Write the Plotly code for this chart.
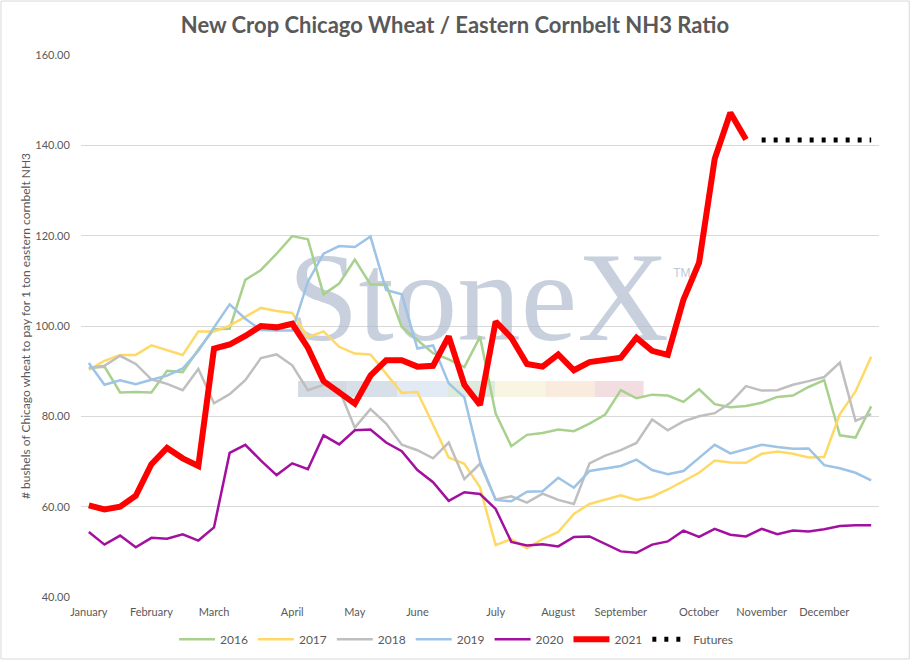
import plotly.graph_objects as go

# weekly index (51 weeks shown on the chart)
weeks = list(range(51))

month_labels = ["January", "February", "March", "April", "May", "June", "July",
                "August", "September", "October", "November", "December"]
month_weeks = [0, 4, 8, 13, 17, 21, 26, 30, 34, 39, 43, 47]

ratio_2016 = [90.7, 91.0, 85.3, 85.4, 85.3, 90.1, 89.8, 94.8, 99.3, 99.4,
              110.2, 112.4, 116.0, 119.9, 119.2, 107.0, 109.4, 114.7, 109.2, 109.2,
              99.8, 96.8, 94.0, 92.6, 90.9, 97.6, 80.6, 73.4, 75.9, 76.3,
              77.1, 76.7, 78.4, 80.4, 85.8, 84.0, 84.8, 84.6, 83.2, 86.0,
              82.7, 82.0, 82.3, 83.0, 84.3, 84.6, 86.5, 88.0, 75.8, 75.3, 82.2]

ratio_2017 = [90.3, 92.3, 93.6, 93.6, 95.7, 94.6, 93.6, 98.8, 98.8, 100.1,
              102.0, 104.0, 103.3, 102.9, 97.5, 98.8, 95.4, 93.9, 93.7, 89.4,
              85.2, 85.4, 78.3, 70.9, 69.5, 64.3, 51.5, 52.8, 50.8, 52.8,
              54.4, 58.4, 60.6, 61.5, 62.5, 61.5, 62.2, 63.8, 65.6, 67.5,
              70.2, 69.8, 69.7, 71.7, 72.2, 71.7, 70.9, 71.0, 80.5, 85.5, 93.2]

ratio_2018 = [90.7, 91.2, 93.4, 91.6, 88.2, 87.2, 85.8, 90.5, 82.9, 84.9,
              88.0, 92.9, 93.7, 91.3, 85.8, 87.0, 85.9, 77.5, 81.6, 78.4,
              73.7, 72.5, 70.7, 74.2, 66.1, 69.5, 61.6, 62.3, 60.9, 62.9,
              61.5, 60.6, 69.6, 71.3, 72.5, 74.1, 79.3, 76.9, 78.9, 80.0,
              80.7, 83.0, 86.7, 85.7, 85.8, 87.0, 87.8, 88.7, 91.9, 79.0, 80.5]

ratio_2019 = [91.8, 87.0, 88.0, 87.1, 88.1, 89.0, 90.6, 94.5, 99.7, 104.8,
              101.6, 99.1, 99.0, 99.0, 109.8, 116.0, 117.7, 117.5, 119.8, 108.0,
              107.0, 95.0, 95.7, 87.3, 84.2, 70.0, 61.5, 61.2, 63.3, 63.4,
              66.4, 64.2, 67.9, 68.5, 69.0, 70.4, 68.1, 67.2, 67.9, 70.8,
              73.7, 71.8, 72.7, 73.7, 73.2, 72.8, 72.9, 69.2, 68.5, 67.5, 65.8]

ratio_2020 = [54.4, 51.6, 53.6, 51.0, 53.1, 52.9, 53.9, 52.5, 55.4, 71.9,
              73.7, 70.2, 67.0, 69.6, 68.3, 75.8, 73.8, 76.9, 77.1, 74.2,
              72.3, 68.1, 65.4, 61.3, 63.2, 62.8, 59.5, 52.2, 51.4, 51.7,
              51.2, 53.3, 53.4, 51.7, 50.1, 49.8, 51.6, 52.3, 54.7, 53.3,
              55.1, 53.8, 53.4, 55.1, 53.9, 54.7, 54.5, 55.0, 55.7, 55.9, 55.9]

ratio_2021 = [60.3, 59.4, 60.0, 62.4, 69.4, 73.0, 70.7, 69.0, 95.0, 95.9,
              97.8, 100.0, 99.7, 100.5, 95.2, 87.8, 85.3, 82.8, 89.0, 92.4,
              92.4, 91.0, 91.2, 97.7, 87.0, 82.5, 101.0, 97.4, 91.6, 91.0,
              93.7, 90.2, 92.0, 92.5, 93.0, 97.4, 94.5, 93.6, 105.8, 114.0,
              137.0, 147.2, 141.3] + [None] * 8

futures = [None] * 43 + [141.2] * 8

series = [
    ("2016", ratio_2016, "#a9d18e", 2.5),
    ("2017", ratio_2017, "#ffd966", 2.5),
    ("2018", ratio_2018, "#bfbfbf", 2.5),
    ("2019", ratio_2019, "#9dc3e6", 2.5),
    ("2020", ratio_2020, "#a3109f", 2.5),
    ("2021", ratio_2021, "#ff0000", 6),
]

text_grey = "#595959"

fig = go.Figure()

# StoneX watermark, drawn first so the lines sit on top of it
fig.add_trace(go.Scatter(
    x=[24.9], y=[104.0], mode="text", text=["StoneX"],
    textfont=dict(family="Liberation Serif", size=127, color="rgba(172,185,203,0.68)"),
    showlegend=False, hoverinfo="skip"
))
fig.add_trace(go.Scatter(
    x=[37.9], y=[111.6], mode="text", text=["TM"],
    textfont=dict(family="Liberation Sans", size=12, color="rgba(172,185,203,0.8)"),
    showlegend=False, hoverinfo="skip"
))

for name, vals, color, width in series:
    fig.add_trace(go.Scatter(
        x=weeks, y=vals, mode="lines", name=name,
        line=dict(color=color, width=width),
        hovertemplate=name + ": %{y:.2f}<extra></extra>"
    ))

fig.add_trace(go.Scatter(
    x=weeks, y=futures, mode="lines", name="Futures",
    line=dict(color="black", width=5, dash="4px,8px"),
    hovertemplate="Futures: %{y:.2f}<extra></extra>"
))

# coloured band under the logo text
band_edges = [0.272, 0.334, 0.396, 0.459, 0.519, 0.582, 0.644, 0.705]
band_colors = ["#c8d1dd", "#cdd7e3", "#dbe6f2", "#d4e5d5", "#f6f3dc", "#f8e6d4", "#efd4d8"]
shapes = []
for i, c in enumerate(band_colors):
    shapes.append(dict(type="rect", xref="paper", yref="paper",
                       x0=band_edges[i], x1=band_edges[i + 1], y0=0.369, y1=0.3985,
                       fillcolor=c, line=dict(width=0), layer="below", opacity=0.8))
# outer chart border
shapes.append(dict(type="rect", xref="paper", yref="paper",
                   x0=-0.1003, x1=1.0379, y0=-0.1144, y1=1.0996,
                   line=dict(color="#d9d9d9", width=1), fillcolor="rgba(0,0,0,0)"))

fig.update_layout(
    width=910, height=660,
    margin=dict(l=81, r=31, t=55, b=63, autoexpand=False),
    paper_bgcolor="white", plot_bgcolor="white",
    font=dict(family="Lato", color=text_grey, size=12),
    title=dict(text="<b>New Crop Chicago Wheat / Eastern Cornbelt NH3 Ratio</b>",
               x=0.5, xref="container", xanchor="center",
               y=0.962, yref="container", yanchor="middle",
               font=dict(family="Lato", size=22, color=text_grey)),
    shapes=shapes,
    showlegend=True,
    legend=dict(orientation="h", x=0.47, xanchor="center", y=-0.078, yanchor="middle",
                font=dict(size=12, color=text_grey), itemwidth=36,
                traceorder="normal"),
)
fig.update_xaxes(
    range=[-0.5, 50.5], tickmode="array", tickvals=month_weeks, ticktext=month_labels,
    showgrid=False, zeroline=False, showline=False,
    ticks="outside", ticklen=5, tickcolor="rgba(0,0,0,0)",
    tickfont=dict(size=11, color=text_grey), automargin=False
)
fig.update_yaxes(
    range=[40, 160], dtick=20, tickformat=".2f",
    showgrid=True, gridcolor="#d9d9d9", gridwidth=1, zeroline=False, showline=False,
    ticks="outside", ticklen=8, tickcolor="rgba(0,0,0,0)",
    tickfont=dict(size=11, color=text_grey), automargin=False,
    title=dict(text="# bushels of Chicago wheat to pay for 1 ton eastern cornbelt NH3",
               font=dict(size=12, color=text_grey), standoff=2)
)

# drop the default 8px page margin so the figure fills the window exactly
fig.write_html("out.html", config={"displayModeBar": False},
               post_script="document.body.style.margin='0';")
